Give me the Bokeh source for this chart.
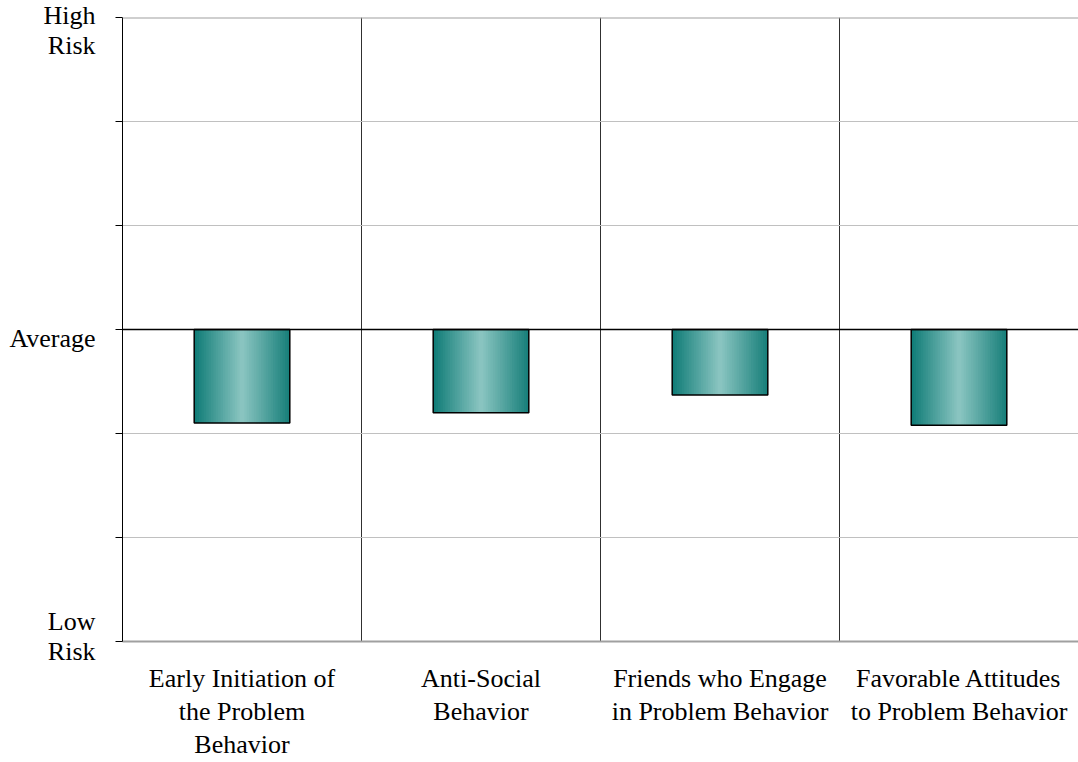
import numpy as np
from bokeh.plotting import figure
from bokeh.models import Range1d, FixedTicker, Span
from bokeh.embed import file_html
from bokeh.resources import INLINE

# ---- data ----
categories = [
    "Early Initiation of\nthe Problem\nBehavior",
    "Anti-Social\nBehavior",
    "Friends who Engage\nin Problem Behavior",
    "Favorable Attitudes\nto Problem Behavior",
]
scores = [-0.90, -0.80, -0.63, -0.92]   # 0 = Average, +3 = High Risk, -3 = Low Risk
y_ticks = [-3, -2, -1, 0, 1, 2, 3]
y_label_texts = ["High\nRisk", "Average", "Low\nRisk"]

# where the y labels sit (label anchors, styling only)
y_label_anchor = [2.875, -0.0865, -2.952]

FONT = "Liberation Serif"

W, H = 1078, 762
p = figure(width=W, height=H, output_backend="svg", toolbar_location=None,
           x_range=Range1d(0, len(categories)), y_range=Range1d(-3, 3),
           min_border_left=122, min_border_right=0, min_border_top=17,
           min_border_bottom=121)
p.background_fill_color = "white"
p.border_fill_color = "white"
p.outline_line_color = None

centers = np.arange(len(categories)) + 0.5
bw = 0.40

# gradient fill made from thin vertical slices of each bar
n = 40
dark_l = np.array([14, 123, 118])
light = np.array([140, 198, 194])
dark_r = np.array([22, 126, 121])
lefts, rights, bottoms, colors = [], [], [], []
for c, v in zip(centers, scores):
    for k in range(n):
        t = (k + 0.5) / n
        if t < 0.5:
            f = t / 0.5
            col = dark_l + (light - dark_l) * f
        else:
            f = (1 - t) / 0.5
            col = dark_r + (light - dark_r) * f
        l = c - bw / 2 + k * bw / n
        lefts.append(l)
        rights.append(min(l + bw / n * 1.6, c + bw / 2))
        bottoms.append(v)
        colors.append("#%02x%02x%02x" % tuple(int(round(x)) for x in col))
p.quad(left=lefts, right=rights, top=0, bottom=bottoms,
       fill_color=colors, line_color=None)
p.quad(left=centers - bw / 2, right=centers + bw / 2, top=0, bottom=scores,
       fill_color=None, line_color="black", line_width=1.5)

# grid
p.ygrid.ticker = FixedTicker(ticks=[t for t in y_ticks if t not in (-3, 0, 3)])
p.ygrid.grid_line_color = "#c0c0c0"
p.ygrid.grid_line_width = 1
p.xgrid.ticker = FixedTicker(ticks=list(np.arange(1, len(categories))))
p.xgrid.grid_line_color = "#303030"
p.xgrid.grid_line_width = 1
p.add_layout(Span(location=0, dimension="width", line_color="black", line_width=1.3))
p.add_layout(Span(location=3, dimension="width", line_color="#a0a0a0", line_width=2))

# x axis
p.xaxis.ticker = FixedTicker(ticks=list(centers))
p.xaxis.major_label_overrides = {float(c): lab for c, lab in zip(centers, categories)}
p.xaxis.axis_line_color = "#a0a0a0"
p.xaxis.axis_line_width = 2
p.xaxis.major_tick_line_color = None
p.xaxis.minor_tick_line_color = None
p.xaxis.major_label_standoff = 16
p.xaxis.major_label_text_font = FONT
p.xaxis.major_label_text_font_size = "26px"
p.xaxis.major_label_text_color = "black"
p.xaxis.major_label_text_line_height = 1.14

# y axis: visible tick marks are the minor ticks at -3..3, labels at anchors
p.yaxis.ticker = FixedTicker(ticks=y_label_anchor, minor_ticks=y_ticks)
p.yaxis.major_label_overrides = {float(a): t for a, t in zip(y_label_anchor, y_label_texts)}
p.yaxis.axis_line_color = "black"
p.yaxis.axis_line_width = 1
p.yaxis.major_tick_line_color = None
p.yaxis.major_tick_out = 7
p.yaxis.major_tick_in = 0
p.yaxis.minor_tick_line_color = "black"
p.yaxis.minor_tick_out = 7
p.yaxis.minor_tick_in = 0
p.yaxis.major_label_standoff = 20
p.yaxis.major_label_text_font = FONT
p.yaxis.major_label_text_font_size = "26px"
p.yaxis.major_label_text_color = "black"
p.yaxis.major_label_text_line_height = 1.05
p.yaxis.major_label_text_align = "center"

open("out.html", "w").write(file_html(p, INLINE))
